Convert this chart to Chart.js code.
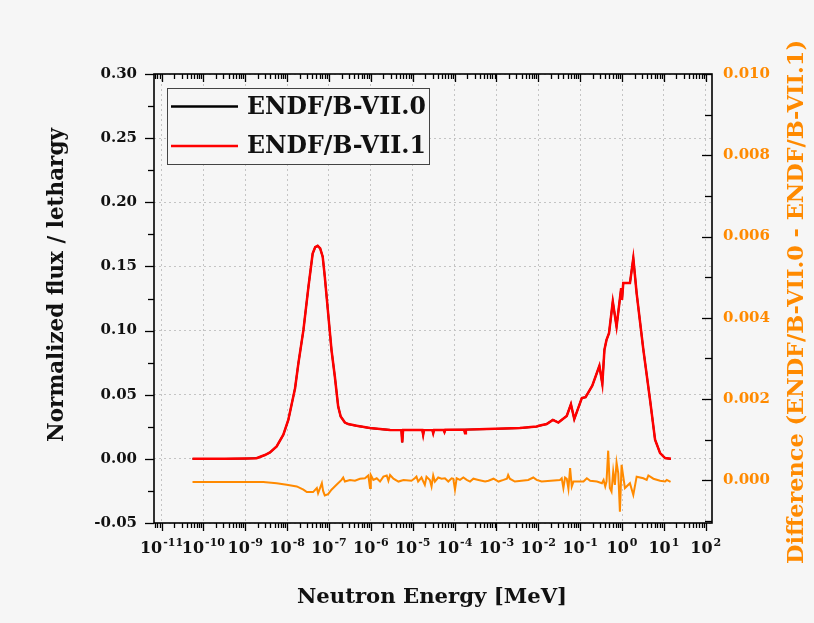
<!DOCTYPE html>
<html>
<head>
<meta charset="utf-8">
<title>Neutron flux per lethargy</title>
<script src="https://cdn.jsdelivr.net/npm/chart.js@4.4.1/dist/chart.umd.min.js"></script>
<style>
  html, body { margin: 0; padding: 0; background: #f6f6f6; }
  #wrap { width: 814px; height: 623px; }
</style>
</head>
<body>
<div id="wrap"><canvas id="fluxChart" width="814" height="623"></canvas></div>
<script>
// flux curves: log10 of neutron energy [MeV] and flux per lethargy
const fluxLogE = [-10.26, -9.5, -9.0, -8.73, -8.61, -8.53, -8.41, -8.25, -8.09, -7.97, -7.81, -7.73, -7.61, -7.49, -7.39, -7.33, -7.27, -7.21, -7.15, -7.10, -7.02, -6.94, -6.86, -6.78, -6.72, -6.62, -6.54, -6.34, -6.02, -5.54, -5.27, -5.25, -5.23, -4.77, -4.75, -4.73, -4.53, -4.51, -4.49, -4.26, -4.24, -4.22, -3.77, -3.75, -3.73, -3.23, -2.44, -2.04, -1.96, -1.80, -1.65, -1.52, -1.32, -1.22, -1.14, -0.96, -0.87, -0.71, -0.54, -0.47, -0.42, -0.37, -0.31, -0.22, -0.13, -0.02, 0.00, 0.03, 0.19, 0.27, 0.35, 0.51, 0.67, 0.79, 0.91, 1.03, 1.17];
const fluxB71 = [0, 0, 0.0002, 0.0005, 0.002, 0.003, 0.005, 0.0097, 0.0188, 0.0305, 0.0551, 0.0746, 0.1005, 0.1343, 0.160, 0.165, 0.166, 0.164, 0.1576, 0.142, 0.1135, 0.085, 0.0642, 0.0408, 0.033, 0.0283, 0.0271, 0.0258, 0.024, 0.0225, 0.0224, 0.0128, 0.0224, 0.0224, 0.0187, 0.0224, 0.0225, 0.0200, 0.0225, 0.0225, 0.0209, 0.0226, 0.0227, 0.0200, 0.0228, 0.0232, 0.024, 0.0252, 0.026, 0.0271, 0.0304, 0.0283, 0.0335, 0.0426, 0.031, 0.0474, 0.0481, 0.057, 0.0725, 0.0585, 0.085, 0.0927, 0.098, 0.1226, 0.1031, 0.133, 0.124, 0.137, 0.137, 0.1564, 0.129, 0.0851, 0.046, 0.0149, 0.0045, 0.0006, 0];
// VII.0 lies under VII.1 to within the line width
const fluxB70 = [...fluxB71];

// difference curve (right axis)
const diffLogE = [-10.26, -9.0, -8.57, -8.25, -8.01, -7.77, -7.61, -7.53, -7.38, -7.29, -7.26, -7.17, -7.14, -7.10, -7.02, -6.94, -6.82, -6.70, -6.66, -6.62, -6.50, -6.38, -6.26, -6.14, -6.06, -6.02, -6.00, -5.94, -5.86, -5.78, -5.70, -5.62, -5.58, -5.54, -5.46, -5.34, -5.22, -5.03, -4.95, -4.91, -4.87, -4.79, -4.71, -4.67, -4.59, -4.55, -4.51, -4.47, -4.39, -4.31, -4.23, -4.15, -4.07, -4.03, -3.99, -3.95, -3.87, -3.79, -3.71, -3.63, -3.55, -3.43, -3.27, -3.19, -3.07, -2.95, -2.83, -2.75, -2.72, -2.68, -2.56, -2.40, -2.24, -2.12, -2.04, -1.92, -1.48, -1.44, -1.40, -1.36, -1.32, -1.28, -1.24, -1.20, -1.16, -0.92, -0.84, -0.76, -0.60, -0.48, -0.44, -0.40, -0.37, -0.33, -0.29, -0.25, -0.21, -0.17, -0.13, -0.09, -0.05, -0.01, 0.07, 0.19, 0.27, 0.35, 0.51, 0.59, 0.63, 0.75, 0.91, 1.03, 1.07, 1.16];
const diffValues = [-0.00004, -0.00004, -0.00004, -0.00007, -0.00011, -0.00015, -0.00023, -0.00029, -0.00029, -0.00019, -0.00032, -0.00007, -0.00026, -0.00037, -0.00034, -0.00023, -0.00011, 0.00001, 0.00007, -0.00003, 0.00001, -0.00001, 0.00004, 0.00005, 0.00012, -0.00019, 0.00013, 0.00001, 0.00005, -0.00003, 0.00009, 0.00012, -0.00001, 0.00013, 0.00004, -0.00003, 0.00001, -0.00001, 0.00005, 0.00009, -0.00003, 0.00007, -0.00011, 0.00009, 0.00001, -0.00015, 0.00012, -0.00003, 0.00007, 0.00004, 0.00005, -0.00003, 0.00005, 0.00004, -0.00023, 0.00005, 0.00001, 0.00007, 0.00001, -0.00003, 0.00004, 0.00001, -0.00003, -0.00001, 0.00004, -0.00003, 0.00001, 0.00004, 0.00013, 0.00004, -0.00003, -0.00001, 0.00001, 0.00007, 0.00001, -0.00003, 0.00001, 0.00005, -0.00019, 0.00007, 0.00004, -0.00021, 0.00030, -0.00015, -0.00003, -0.00003, 0.00005, -0.00001, -0.00003, -0.00007, 0.00001, -0.00015, -0.00003, 0.00073, -0.00019, -0.00028, 0.00022, -0.00011, 0.00044, 0.00018, -0.00077, 0.00038, -0.00019, -0.00007, -0.00036, 0.00009, 0.00005, 0.00001, 0.00012, 0.00004, -0.00001, -0.00003, 0.00001, -0.00004];

// axis ticks
const xDecades = [-11, -10, -9, -8, -7, -6, -5, -4, -3, -2, -1, 0, 1, 2];
const yLeftTicks = [-0.05, 0, 0.05, 0.10, 0.15, 0.20, 0.25, 0.30];
const yRightTicks = [0, 0.002, 0.004, 0.006, 0.008, 0.010];

const colors = { red: '#ff0000', black: '#000000', orange: '#ff8a00', grid: '#c4c4c4', bg: '#f6f6f6' };
const serif = '"DejaVu Serif", "Liberation Serif", serif';

function toPoints(logE, values) {
  return logE.map((e, i) => ({ x: 10 ** e, y: values[i] }));
}

function fitFont(ctx, text, width) {
  ctx.font = `bold 20px ${serif}`;
  const size = 20 * width / ctx.measureText(text).width;
  return `bold ${size.toFixed(1)}px ${serif}`;
}

function seg(ctx, x1, y1, x2, y2) {
  ctx.beginPath();
  ctx.moveTo(x1, y1);
  ctx.lineTo(x2, y2);
  ctx.stroke();
}

const decorations = {
  id: 'decorations',
  afterDraw(chart) {
    const { ctx, chartArea: a, scales } = chart;
    ctx.save();

    // tick marks
    ctx.strokeStyle = '#000';
    ctx.lineWidth = 1.3;
    for (let e = -12; e <= 2; e++) {
      for (let m = 1; m <= 9; m++) {
        const v = m * 10 ** e;
        if (v < scales.x.min || v > scales.x.max) continue;
        const px = Math.round(scales.x.getPixelForValue(v)) + 0.5;
        const len = m === 1 ? 8 : 5;
        seg(ctx, px, a.bottom, px, a.bottom + len);
        seg(ctx, px, a.top, px, a.top + len);
      }
    }
    for (let i = 0; i <= 14; i++) {
      const v = -0.05 + i * 0.025;
      const py = Math.round(scales.y.getPixelForValue(v)) + 0.5;
      seg(ctx, a.left - (i % 2 === 0 ? 9 : 6), py, a.left, py);
    }
    for (let i = -1; i <= 10; i++) {
      const py = Math.round(scales.y1.getPixelForValue(i * 0.001)) + 0.5;
      seg(ctx, a.right - (i % 2 === 0 ? 10 : 7), py, a.right, py);
    }

    // frame
    ctx.lineWidth = 1.6;
    ctx.strokeRect(a.left, a.top, a.right - a.left, a.bottom - a.top);

    // x tick labels, 10 with a raised exponent
    ctx.fillStyle = '#111';
    ctx.textBaseline = 'alphabetic';
    ctx.textAlign = 'left';
    xDecades.forEach((e) => {
      const px = scales.x.getPixelForValue(10 ** e);
      const exp = String(e);
      ctx.font = `bold 16px ${serif}`;
      const wBase = ctx.measureText('10').width;
      ctx.font = `bold 11px ${serif}`;
      const wExp = ctx.measureText(exp).width;
      const x0 = px - (wBase + wExp + 1) / 2;
      ctx.font = `bold 16px ${serif}`;
      ctx.fillText('10', x0, 553);
      ctx.font = `bold 11px ${serif}`;
      ctx.fillText(exp, x0 + wBase + 1, 546);
    });

    // legend box
    const box = { x: 167, y: 88, w: 262, h: 76 };
    ctx.fillStyle = colors.bg;
    ctx.fillRect(box.x, box.y, box.w, box.h);
    ctx.strokeStyle = '#444';
    ctx.lineWidth = 1;
    ctx.strokeRect(box.x + 0.5, box.y + 0.5, box.w, box.h);
    const rows = [106.5, 146];
    [0, 1].forEach((idx, r) => {
      const ds = chart.data.datasets[idx];
      ctx.strokeStyle = ds.borderColor;
      ctx.lineWidth = 2.5;
      seg(ctx, 171, rows[r], 238, rows[r]);
      ctx.fillStyle = '#111';
      ctx.font = fitFont(ctx, ds.label, 179);
      ctx.textAlign = 'left';
      ctx.textBaseline = 'middle';
      ctx.fillText(ds.label, 247, rows[r] + 1);
    });

    // axis titles
    ctx.fillStyle = '#111';
    ctx.textAlign = 'center';
    ctx.textBaseline = 'middle';
    const xTitle = 'Neutron Energy [MeV]';
    ctx.font = fitFont(ctx, xTitle, 270);
    ctx.fillText(xTitle, 432, 597);

    const yTitle = 'Normalized flux / lethargy';
    ctx.save();
    ctx.translate(57, 285);
    ctx.rotate(-Math.PI / 2);
    ctx.font = fitFont(ctx, yTitle, 314);
    ctx.fillText(yTitle, 0, 0);
    ctx.restore();

    const y1Title = 'Difference (ENDF/B-VII.0 - ENDF/B-VII.1)';
    ctx.save();
    ctx.translate(797, 302);
    ctx.rotate(-Math.PI / 2);
    ctx.fillStyle = colors.orange;
    ctx.font = fitFont(ctx, y1Title, 524);
    ctx.fillText(y1Title, 0, 0);
    ctx.restore();

    ctx.restore();
  }
};

new Chart(document.getElementById('fluxChart'), {
  type: 'line',
  data: {
    datasets: [
      {
        label: 'ENDF/B-VII.0',
        data: toPoints(fluxLogE, fluxB70),
        borderColor: colors.black,
        borderWidth: 1.8,
        yAxisID: 'y',
        order: 2
      },
      {
        label: 'ENDF/B-VII.1',
        data: toPoints(fluxLogE, fluxB71),
        borderColor: colors.red,
        borderWidth: 2.5,
        yAxisID: 'y',
        order: 1
      },
      {
        label: 'Difference',
        data: toPoints(diffLogE, diffValues),
        borderColor: colors.orange,
        borderWidth: 2,
        yAxisID: 'y1',
        order: 0
      }
    ]
  },
  options: {
    responsive: false,
    animation: false,
    events: [],
    elements: { point: { radius: 0 }, line: { tension: 0, fill: false } },
    layout: { padding: { top: 74, left: 0, right: 0, bottom: 0 } },
    plugins: { legend: { display: false }, tooltip: { enabled: false } },
    scales: {
      x: {
        type: 'logarithmic',
        min: 10 ** -11.18,
        max: 10 ** 2.15,
        afterBuildTicks: (scale) => { scale.ticks = xDecades.map((e) => ({ value: 10 ** e })); },
        afterFit: (scale) => { scale.height = 100; },
        ticks: { display: false },
        grid: { color: colors.grid, drawTicks: false },
        border: { display: false, dash: [2, 3] }
      },
      y: {
        type: 'linear',
        position: 'left',
        min: -0.05,
        max: 0.30,
        afterBuildTicks: (scale) => { scale.ticks = yLeftTicks.map((v) => ({ value: v })); },
        afterFit: (scale) => { scale.width = 154; },
        ticks: {
          padding: 17,
          color: '#111',
          font: { family: serif, size: 15, weight: 'bold' },
          callback: (value) => value.toFixed(2)
        },
        grid: { color: colors.grid, drawTicks: false },
        border: { display: false, dash: [2, 3] }
      },
      y1: {
        type: 'linear',
        position: 'right',
        min: -0.00105,
        max: 0.010,
        afterBuildTicks: (scale) => { scale.ticks = yRightTicks.map((v) => ({ value: v })); },
        afterFit: (scale) => { scale.width = 102; },
        ticks: {
          padding: 11,
          color: colors.orange,
          font: { family: serif, size: 15, weight: 'bold' },
          callback: (value) => value.toFixed(3)
        },
        grid: { display: false, drawTicks: false },
        border: { display: false }
      }
    }
  },
  plugins: [decorations]
});
</script>
</body>
</html>
